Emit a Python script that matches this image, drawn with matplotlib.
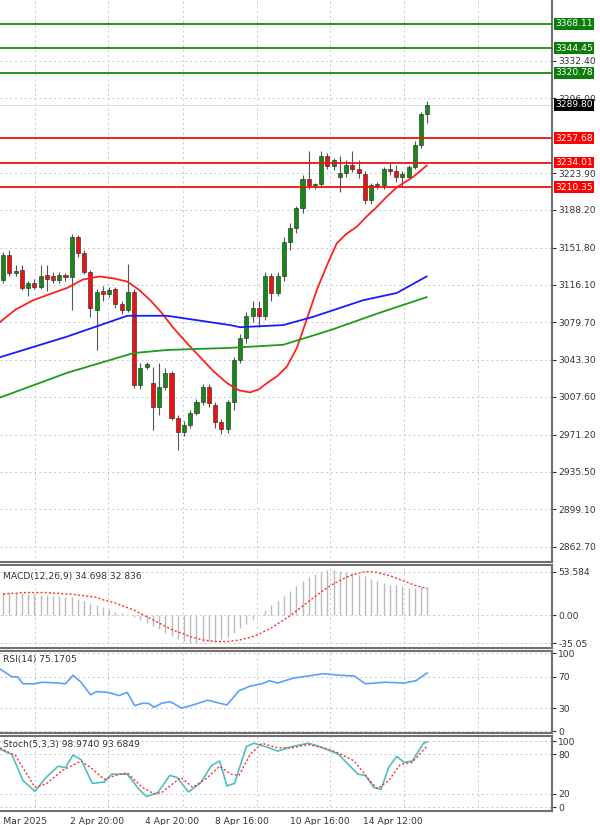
import matplotlib
matplotlib.use("Agg")
import matplotlib.pyplot as plt
import numpy as np

opens = [3121,3145,3127,3130,3113,3118,3114,3125,3124,3121,3125,3123,3162,3147,3128,3092,3110,3107,3112,3097,3092,3109,3019,3037,3021,2998,3017,3031,2987,2974,2981,2992,3003,3017,3000,2983,2977,3003,3043,3065,3086,3094,3086,3124,3108,3124,3157,3171,3190,3218,3212,3213,3240,3231,3220,3224,3232,3228,3223,3198,3211,3212,3228,3226,3220,3220,3230,3251,3281]
closes = [3145,3127,3129,3113,3118,3114,3124,3122,3121,3125,3123,3162,3147,3128,3094,3109,3107,3111,3097,3092,3109,3019,3036,3039,2998,3017,3031,2987,2974,2981,2992,3003,3017,3002,2983,2977,3003,3043,3065,3086,3094,3086,3124,3108,3124,3157,3171,3190,3218,3212,3213,3240,3231,3236,3224,3232,3228,3224,3198,3212,3213,3228,3226,3220,3223,3230,3251,3281,3290]
highs = [3148,3150,3135,3135,3120,3122,3135,3135,3128,3128,3127,3165,3164,3150,3130,3112,3115,3114,3114,3100,3136,3112,3040,3041,3037,3040,3036,3033,2990,2984,2995,3006,3020,3020,3003,2986,3005,3046,3068,3090,3100,3100,3128,3127,3128,3162,3176,3192,3222,3245,3214,3245,3243,3238,3240,3236,3245,3236,3226,3214,3215,3230,3234,3232,3226,3232,3255,3283,3293]
lows = [3118,3124,3124,3111,3105,3112,3112,3110,3118,3118,3120,3092,3143,3126,3085,3053,3100,3104,3094,3088,3090,3016,3015,3035,2976,2990,3014,2985,2956,2970,2978,2990,3000,2998,2978,2972,2973,2995,3040,3060,3080,3075,3082,3100,3105,3120,3150,3166,3185,3208,3208,3210,3228,3227,3206,3220,3225,3219,3194,3194,3208,3208,3222,3215,3210,3218,3228,3248,3272]

ma_fast_x = [-0.5,2,4.8,7.5,10.3,12.8,15.5,17.8,19.9,21.8,23.6,25.4,27.2,29.4,31.6,33.8,35.9,37.8,39.6,41,42.3,44,45.5,47.1,48.7,50.3,52,53.5,55,56.7,58.3,59.9,61.5,63.1,65.7,67.9]
ma_fast_y = [3080,3092,3101,3107,3113,3121,3124,3122,3119,3111,3101,3089,3075,3060,3046,3032,3021,3014,3012,3015,3021,3028,3037,3055,3083,3111,3136,3156,3165,3172,3182,3191,3201,3210,3220,3231]
ma_mid_x = [-0.5,10.3,19.9,26.3,36.4,38.0,44.9,49.7,57.7,63.1,67.9]
ma_mid_y = [3046,3066,3086,3086,3077,3075,3077,3085,3101,3108,3124]
ma_slow_x = [-0.5,10.3,20.9,26.3,36.4,44.9,52.4,60.4,67.9]
ma_slow_y = [3007,3031,3050,3053,3055,3058,3072,3089,3104]

res_levels = [3368.11, 3344.45, 3320.78]
sup_levels = [3257.68, 3234.01, 3210.35]
last_price = 3289.80
price_ticks = [3332.40, 3296.00, 3223.90, 3188.20, 3151.80, 3116.10, 3079.70, 3043.30, 3007.60, 2971.20, 2935.50, 2899.10, 2862.70]

macd_hist = [29,28,27,27,26,26,25,25,24,24,23,22,20,17,15,12,10,7,4,2,0,-3,-6,-10,-14,-18,-22,-26,-30,-33,-35,-35,-34,-33,-32,-30,-27,-22,-16,-11,-6,0,6,12,18,24,30,36,42,47,51,54,56,56,55,54,52,50,48,45,42,40,38,37,36,34,34,35,35]
macd_sig = [26,27,27,28,28,28,28,28,27,27,26,26,25,24,23,22,19,17,15,12,9,6,2,-2,-6,-10,-14,-18,-21,-24,-27,-29,-31,-32,-33,-33,-33,-32,-31,-29,-27,-24,-20,-16,-11,-6,-1,5,11,17,23,29,34,39,43,47,50,52,54,54,53,51,49,46,43,40,37,35,33]

rsi_x = [-0.5,1.4,2.3,3.2,5,6.3,8.8,10,11.2,12.5,14,15,16.8,18.6,19.9,21.1,22.3,23.3,24.2,25.4,26.7,27.3,28.5,29.7,32.8,35.3,35.9,37.8,39.6,41.5,42.7,44,46.4,48.9,51.4,53.8,56.3,58.1,61.2,64.3,66.2,68]
rsi_y = [80,70,70,61,61,63,62,61,72,63,47,51,50,46,50,33,36,36,31,36,38,36,30,32,40,35,34,52,58,61,65,62,68,71,74,72,71,61,63,62,65,75]

st_x = [-0.5,1.4,3.2,5.1,6.9,8.8,10,11.2,12.5,14.3,16.2,17.4,19.9,21.7,23,24.8,26.7,27.9,29.7,31.6,33.4,34.7,35.9,37.1,39,40.2,42.7,44,46.4,48.9,50.1,52.6,53.8,55,56.9,58.1,59.4,60.6,61.8,63.1,64.3,65.6,67.4,68]
st_k = [88,80,40,24,45,62,60,79,72,36,38,50,50,28,16,22,48,45,23,36,63,70,32,36,92,97,90,85,92,97,94,85,80,68,50,48,30,27,60,77,68,70,97,99]
st_d_x = [-0.5,2,5.1,6.9,9.4,12.5,14.3,16.2,18,19.9,22.3,24.2,25.4,28.5,30.4,32.8,34.7,36.5,37.8,39.6,41.5,44,46.4,48.9,51.4,53.8,56.3,58.8,60,61.8,63.7,65.6,68]
st_d = [90,78,30,35,55,70,58,42,48,52,30,20,22,45,30,45,62,50,48,80,97,90,90,95,90,82,70,40,28,40,65,68,93]

date_pos = [2.4, 15.1, 27.1, 38.3, 50.8, 62.5]
date_labels = ["31 Mar 2025", "2 Apr 20:00", "4 Apr 20:00", "8 Apr 16:00", "10 Apr 16:00", "14 Apr 12:00"]
vgrid = [5.1, 16.8, 28.8, 40.7, 52.4, 64.3, 76.1]

W, H = 600, 825
FS = 6.6
fig = plt.figure(figsize=(6, 8.25), dpi=100)
def ax_at(top, bot):
    return fig.add_axes([0, 1 - bot / H, 552 / W, (bot - top) / H])

GREEN = "#138a13"; RED = "#ee1111"; GRID = "#c8c8c8"; SP = "#707070"
XL = (-0.5, 88)

def style(ax, yt, ylabels):
    ax.set_xlim(*XL)
    ax.set_xticks([])
    ax.yaxis.tick_right()
    ax.set_yticks(yt)
    ax.set_yticklabels(ylabels, fontsize=FS, color="#333333")
    ax.tick_params(axis="y", length=3, pad=1.5, color="#333333")
    for v in vgrid:
        ax.axvline(v, color=GRID, ls=(0, (2, 3)), lw=0.7, zorder=0)
    for t in yt:
        ax.axhline(t, color=GRID, ls=(0, (2, 3)), lw=0.7, zorder=0)
    for s in ax.spines.values():
        s.set_color(SP); s.set_linewidth(1.5)
    ax.spines["left"].set_visible(False)

# main
ax = ax_at(0, 562)
ax.set_ylim(2848.2, 3391)
style(ax, price_ticks, [f"{t:.2f}" for t in price_ticks])
ax.spines["top"].set_visible(False)
x = np.arange(len(opens))
for i in x:
    o, c = opens[i], closes[i]
    col = GREEN if c >= o else RED
    ax.vlines(i, lows[i], highs[i], color="#555555", lw=0.8, zorder=2)
    ax.bar(i, max(abs(c - o), 0.8), bottom=min(o, c), width=0.65, color=col,
           edgecolor="#222222", lw=0.4, zorder=3)
ax.plot(ma_fast_x, ma_fast_y, color="#ff2020", lw=1.3, zorder=4)
ax.plot(ma_mid_x, ma_mid_y, color="#1a1aff", lw=1.3, zorder=4)
ax.plot(ma_slow_x, ma_slow_y, color="#1e9a1e", lw=1.3, zorder=4)
ax.axhline(last_price, color="#dddddd", lw=0.8, zorder=1)
def tag(lv, fc):
    ax.text(1.006, lv, f"{lv:.2f}", transform=ax.get_yaxis_transform(), fontsize=FS,
            color="white", va="center", ha="left",
            bbox=dict(boxstyle="square,pad=0.15", fc=fc, ec="none"), clip_on=False, zorder=10)
for lv in res_levels:
    ax.axhline(lv, color=GREEN, lw=1.3, zorder=5)
    tag(lv, "#0b7d0b")
for lv in sup_levels:
    ax.axhline(lv, color=RED, lw=1.3, zorder=5)
    tag(lv, "#ff0000")
tag(last_price, "black")

# MACD
ax2 = ax_at(565, 648)
ax2.set_ylim(-41.1, 62.3)
style(ax2, [53.584, 0.0, -35.05], ["53.584", "0.00", "-35.05"])
ax2.vlines(x, 0, macd_hist, color="#bbbbbb", lw=1.0)
ax2.plot(x, macd_sig, color="#ff3030", lw=1.0, ls=(0, (1.5, 1.5)))
ax2.text(0.005, 0.92, "MACD(12,26,9) 34.698 32.836", transform=ax2.transAxes, fontsize=FS,
         va="top", color="#333333")

# RSI
ax3 = ax_at(651, 733)
ax3.set_ylim(-2, 103)
style(ax3, [100, 70, 30, 0], ["100", "70", "30", "0"])
ax3.plot(rsi_x, rsi_y, color="#5aa0ff", lw=1.2)
ax3.text(0.005, 0.95, "RSI(14) 75.1705", transform=ax3.transAxes, fontsize=FS,
         va="top", color="#333333")

# Stoch
ax4 = ax_at(736, 811)
ax4.set_ylim(-6, 108)
style(ax4, [100, 80, 20, 0], ["100", "80", "20", "0"])
ax4.plot(st_x, st_k, color="#4cc0c0", lw=1.2)
ax4.plot(st_d_x, st_d, color="#ff3030", lw=1.0, ls=(0, (1.5, 1.5)))
ax4.text(0.005, 0.95, "Stoch(5,3,3) 98.9740 93.6849", transform=ax4.transAxes, fontsize=FS,
         va="top", color="#333333")
for p, lab in zip(date_pos, date_labels):
    ax4.text(p, -0.08, lab, transform=ax4.get_xaxis_transform(), fontsize=FS,
             ha="center", va="top", color="#333333")

fig.savefig("out.png", dpi=100, facecolor="white")
